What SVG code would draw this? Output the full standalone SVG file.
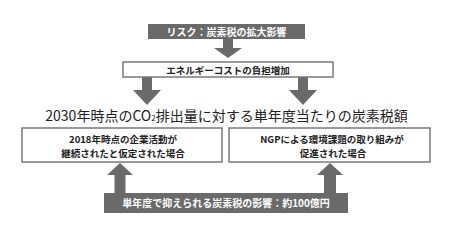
<svg xmlns="http://www.w3.org/2000/svg" width="452" height="233" viewBox="0 0 452 233">
<style>
.dark{fill:#6a6a6a;}
.box{fill:#ffffff;stroke:#7a7a7a;stroke-width:1.5;}
.arrow{fill:#6a6a6a;}
text{font-family:"Noto Sans CJK JP","Noto Sans",sans-serif;text-anchor:middle;}
.wt{fill:#ffffff;font-size:10px;font-weight:bold;}
.bt{fill:#222222;font-size:10px;font-weight:bold;}
.bs{fill:#222222;font-size:9.5px;font-weight:bold;}
.title{fill:#222222;font-size:14px;}
</style>
<rect width="452" height="233" fill="#ffffff"/>
<g id="connectors">
<polygon class="arrow" points="223,38 233,38 233,48 242,48 228,58 214,48 223,48"/>
<polygon class="arrow" points="142,77 152,77 152,90 161,90 147,105 133,90 142,90"/>
<polygon class="arrow" points="298,77 308,77 308,90 317,90 303,105 289,90 298,90"/>
<polygon class="arrow" points="114.5,194 125.5,194 125.5,175 133,175 120,163 107,175 114.5,175"/>
<polygon class="arrow" points="324,194 336,194 336,175 343,175 330,163 317,175 324,175"/>
</g>
<g id="risk">
<rect class="dark" x="148" y="24" width="157" height="15"/>
<text class="wt" x="226.5" y="35.5">リスク：炭素税の拡大影響</text>
</g>
<g id="energy">
<rect class="box" x="123" y="62" width="210" height="15"/>
<text class="bs" x="228" y="73.5">エネルギーコストの負担増加</text>
</g>
<g id="title">
<text class="title" x="226.5" y="121">2030年時点のCO<tspan font-size="8">2</tspan>排出量に対する単年度当たりの炭素税額</text>
</g>
<g id="case2018">
<rect class="box" x="22" y="128" width="200" height="34"/>
<text class="bs" x="123" y="143">2018年時点の企業活動が</text>
<text class="bs" x="123" y="157">継続されたと仮定された場合</text>
</g>
<g id="caseNGP">
<rect class="box" x="229" y="128" width="201" height="34"/>
<text class="bs" x="332" y="143">NGPによる環境課題の取り組みが</text>
<text class="bs" x="333" y="157">促進された場合</text>
</g>
<g id="impact">
<rect class="dark" x="104" y="193" width="244" height="20"/>
<text class="wt" x="226" y="207">単年度で抑えられる炭素税の影響：約100億円</text>
</g>
</svg>
